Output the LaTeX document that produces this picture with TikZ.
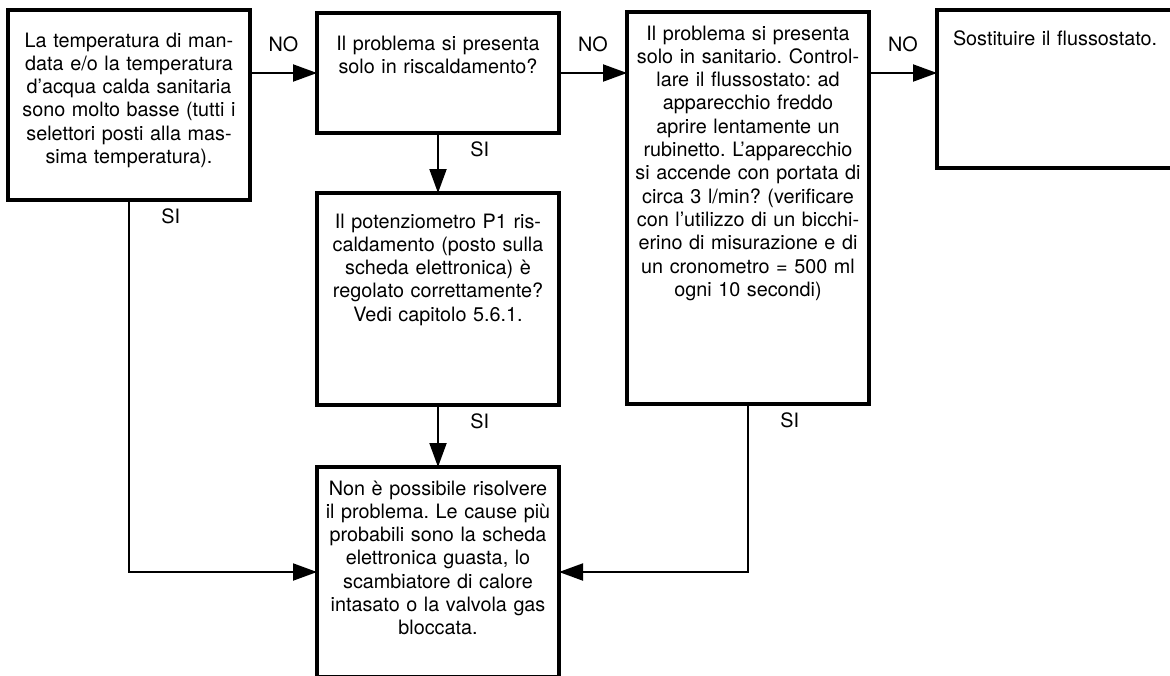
\documentclass[tikz,border=0pt]{standalone}
\usepackage{fontspec}
\setmainfont{TeX Gyre Heros}
\usetikzlibrary{arrows.meta,positioning}
\frenchspacing

\begin{document}
\begin{tikzpicture}[
      x=0.5pt, y=-0.5pt,
      font=\fontsize{9.9}{11.65}\selectfont,
      box/.style={draw, line width=1.6pt, anchor=north west, align=center,
                  text width=119pt, inner xsep=1pt, inner ysep=0pt,
                  outer sep=0pt},
      lbl/.style={inner sep=0pt},
      arr/.style={-{Triangle[length=12pt,width=8.5pt]}, line width=1pt}
    ]
    \clip (0,0) rectangle (1170,675);

    \node[box, text height=18.5pt, text depth=76.5pt] (a) at (8,10)
      {La temperatura di man-\\ data e/o la temperatura\\
       d'acqua calda sanitaria\\ sono molto basse (tutti i\\
       selettori posti alla mas-\\ sima temperatura).};
    \node[box, text height=18.5pt, text depth=41.5pt] (b) at (317,13)
      {Il problema si presenta\\ solo in riscaldamento?};
    \node[box, text height=17.5pt, text depth=88.5pt] (c) at (317,193)
      {Il potenziometro P1 ris-\\ caldamento (posto sulla\\
       scheda elettronica) è\\ regolato correttamente?\\
       Vedi capitolo 5.6.1.};
    \node[box, text height=14pt, text depth=182pt] (d) at (627,12)
      {Il problema si presenta\\ solo in sanitario. Control-\\
       lare il flussostato: ad\\ apparecchio freddo\\
       aprire lentamente un\\ rubinetto. L'apparecchio\\
       si accende con portata di\\ circa 3 l/min? (verificare\\
       con l'utilizzo di un bicchi-\\ erino di misurazione e di\\
       un cronometro = 500 ml\\ ogni 10 secondi)};
    \node[box, align=left, inner xsep=8pt, text width=105pt,
          text height=17.5pt, text depth=61.5pt] (e) at (937,10)
      {Sostituire il flussostato.};
    \node[box, text height=14pt, text depth=91pt] (f) at (317,467)
      {Non è possibile risolvere\\ il problema. Le cause più\\
       probabili sono la scheda\\ elettronica guasta, lo\\
       scambiatore di calore\\ intasato o la valvola gas\\
       bloccata.};

    % NO branches, left to right
    \draw[arr] (a.east |- b.west) -- (b.west)
      node[lbl, midway, above=10pt] (no1) {NO};
    \draw[arr] (b.east) -- (b.east -| d.west)
      node[lbl, midway, above=10pt] (no2) {NO};
    \draw[arr] (b.east -| d.east) -- (b.east -| e.west)
      node[lbl, midway, above=10pt] (no3) {NO};

    % SI branches, all ending in the last box
    \draw[arr] (b.south) -- (c.north);
    \draw[arr] (c.south) -- (f.north);
    \draw[arr] (a.south) |- (f.west);
    \draw[arr] (d.south) |- (f.east);

    \foreach \n in {a,b,c,d}
      \node[lbl, anchor=base west] (si\n) at ([shift={(16pt,-11.5pt)}]\n.south) {SI};
  \end{tikzpicture}
\end{document}
